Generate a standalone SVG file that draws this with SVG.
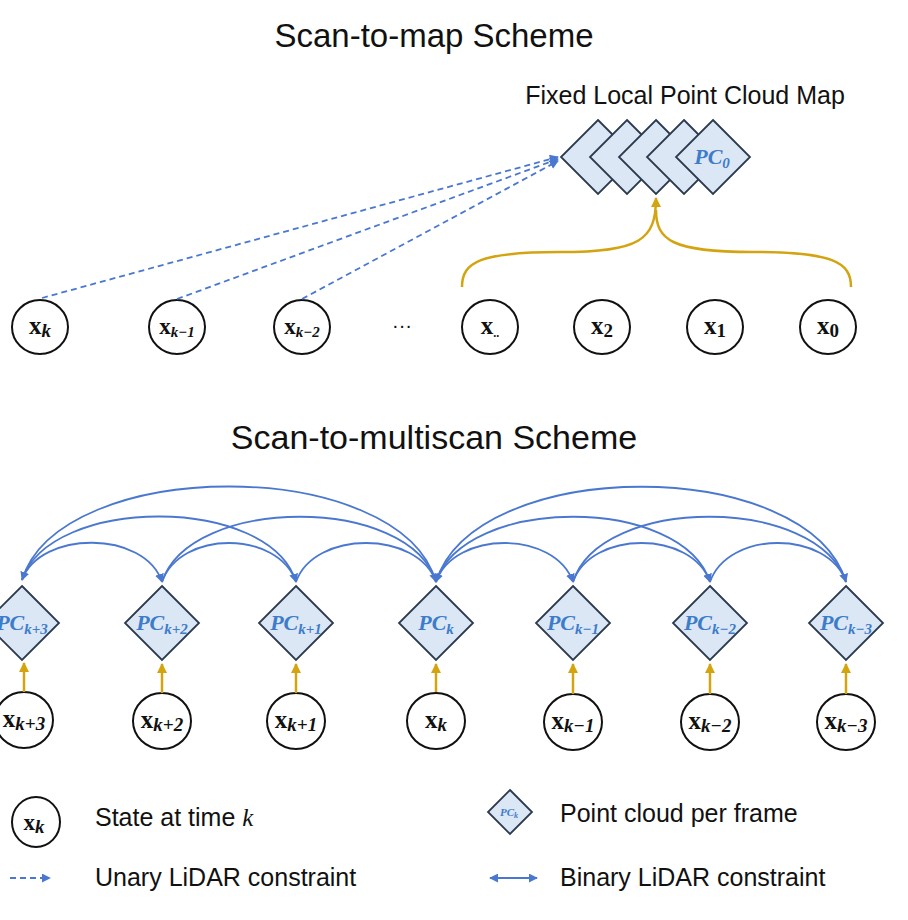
<svg xmlns="http://www.w3.org/2000/svg" width="908" height="920" viewBox="0 0 908 920">
<style>
.t{font-family:"Liberation Sans",Arial,sans-serif;fill:#111}
.st{fill:#fff;stroke:#111;stroke-width:2}
.pc{fill:#dce7f5;stroke:#2b3a4e;stroke-width:1.8}
.m{font-family:"Liberation Serif","DejaVu Serif",serif;font-weight:bold;fill:#111;font-size:25px}
.s{font-style:italic;font-size:19px}
.pl{font-family:"Liberation Serif","DejaVu Serif",serif;font-weight:bold;font-style:italic;fill:#3d7cc9;font-size:22px}
.ps{font-style:italic;font-size:15px}
.bl{fill:none;stroke:#4a78d0;stroke-width:1.8}
.dl{fill:none;stroke:#4a78d0;stroke-width:1.8;stroke-dasharray:6,4}
.yl{fill:none;stroke:#d4a410;stroke-width:2.5}
</style>
<defs>
<marker id="ab" viewBox="0 0 10 10" refX="9" refY="5" markerWidth="5" markerHeight="5" orient="auto-start-reverse"><path d="M0,0L10,5L0,10z" fill="#4a78d0"/></marker>
<marker id="ay" viewBox="0 0 10 10" refX="9" refY="5" markerWidth="4" markerHeight="4" orient="auto"><path d="M0,0L10,5L0,10z" fill="#d4a410"/></marker>
</defs>
<text class="t" x="434" y="47" font-size="33" text-anchor="middle">Scan-to-map Scheme</text>
<text class="t" x="685" y="104" font-size="25" text-anchor="middle">Fixed Local Point Cloud Map</text>
<text class="t" x="434" y="449" font-size="34" text-anchor="middle">Scan-to-multiscan Scheme</text>

<g id="map">
<path class="pc" d="M598,120L635,157L598,194L561,157z"/>
<path class="pc" d="M627,120L664,157L627,194L590,157z"/>
<path class="pc" d="M656,120L693,157L656,194L619,157z"/>
<path class="pc" d="M684,120L721,157L684,194L647,157z"/>
<path class="pc" d="M713,120L750,157L713,194L676,157z"/>
<text class="pl" x="712" y="164" text-anchor="middle">PC<tspan class="ps" dy="4">0</tspan></text>
</g>
<g id="top-states">
<ellipse class="st" cx="40" cy="327" rx="28" ry="27"/><text class="m" x="40" y="334" text-anchor="middle">x<tspan class="s" dy="3">k</tspan></text>
<ellipse class="st" cx="177" cy="327" rx="28" ry="27"/><text class="m" x="177" y="334" text-anchor="middle" style="font-size:23px">x<tspan dy="3" style="font-style:italic;font-size:15px">k−1</tspan></text>
<ellipse class="st" cx="302" cy="327" rx="28" ry="27"/><text class="m" x="302" y="334" text-anchor="middle" style="font-size:23px">x<tspan dy="3" style="font-style:italic;font-size:15px">k−2</tspan></text>
<text class="t" x="402" y="332" font-size="20" text-anchor="middle">···</text>
<ellipse class="st" cx="490" cy="327" rx="28" ry="27"/><text class="m" x="490" y="334" text-anchor="middle">x<tspan dy="3" style="font-size:12px">..</tspan></text>
<ellipse class="st" cx="602" cy="327" rx="28" ry="27"/><text class="m" x="602" y="334" text-anchor="middle">x<tspan dy="3" style="font-size:19px">2</tspan></text>
<ellipse class="st" cx="715" cy="327" rx="28" ry="27"/><text class="m" x="715" y="334" text-anchor="middle">x<tspan dy="3" style="font-size:19px">1</tspan></text>
<ellipse class="st" cx="828" cy="327" rx="28" ry="27"/><text class="m" x="828" y="334" text-anchor="middle">x<tspan dy="3" style="font-size:19px">0</tspan></text>
</g>
<g id="top-connectors">
<path class="dl" d="M42,298L558,157" marker-end="url(#ab)"/>
<path class="dl" d="M177,299L558,159" marker-end="url(#ab)"/>
<path class="dl" d="M302,299L558,161" marker-end="url(#ab)"/>
<path class="yl" d="M462,287C462,262 480,252 560,252C640,252 656,240 656,198" marker-end="url(#ay)"/>
<path class="yl" d="M851,287C851,262 833,252 752,252C672,252 656,240 656,210"/>
</g>

<g id="pcs">
<path class="pc" d="M22,586L59,623L22,660L-15,623z"/><text class="pl" x="22" y="630" text-anchor="middle">PC<tspan class="ps" dy="4">k+3</tspan></text>
<path class="pc" d="M162,586L199,623L162,660L125,623z"/><text class="pl" x="162" y="630" text-anchor="middle">PC<tspan class="ps" dy="4">k+2</tspan></text>
<path class="pc" d="M296,586L333,623L296,660L259,623z"/><text class="pl" x="296" y="630" text-anchor="middle">PC<tspan class="ps" dy="4">k+1</tspan></text>
<path class="pc" d="M436,586L473,623L436,660L399,623z"/><text class="pl" x="436" y="630" text-anchor="middle">PC<tspan class="ps" dy="4">k</tspan></text>
<path class="pc" d="M573,586L610,623L573,660L536,623z"/><text class="pl" x="573" y="630" text-anchor="middle">PC<tspan class="ps" dy="4">k−1</tspan></text>
<path class="pc" d="M710,586L747,623L710,660L673,623z"/><text class="pl" x="710" y="630" text-anchor="middle">PC<tspan class="ps" dy="4">k−2</tspan></text>
<path class="pc" d="M846,586L883,623L846,660L809,623z"/><text class="pl" x="846" y="630" text-anchor="middle">PC<tspan class="ps" dy="4">k−3</tspan></text>
</g>
<g id="bottom-states">
<ellipse class="st" cx="24" cy="720" rx="29" ry="28"/><text class="m" x="24" y="727" text-anchor="middle">x<tspan class="s" dy="3">k+3</tspan></text>
<ellipse class="st" cx="162" cy="721" rx="29" ry="28"/><text class="m" x="162" y="728" text-anchor="middle">x<tspan class="s" dy="3">k+2</tspan></text>
<ellipse class="st" cx="296" cy="721" rx="29" ry="28"/><text class="m" x="296" y="728" text-anchor="middle">x<tspan class="s" dy="3">k+1</tspan></text>
<ellipse class="st" cx="436" cy="721" rx="29" ry="28"/><text class="m" x="436" y="728" text-anchor="middle">x<tspan class="s" dy="3">k</tspan></text>
<ellipse class="st" cx="573" cy="722" rx="29" ry="28"/><text class="m" x="573" y="729" text-anchor="middle">x<tspan class="s" dy="3">k−1</tspan></text>
<ellipse class="st" cx="710" cy="722" rx="29" ry="28"/><text class="m" x="710" y="729" text-anchor="middle">x<tspan class="s" dy="3">k−2</tspan></text>
<ellipse class="st" cx="846" cy="722" rx="29" ry="28"/><text class="m" x="846" y="729" text-anchor="middle">x<tspan class="s" dy="3">k−3</tspan></text>
</g>
<g id="bottom-connectors">
<path class="yl" d="M24,692V663" marker-end="url(#ay)"/>
<path class="yl" d="M162,693V664" marker-end="url(#ay)"/>
<path class="yl" d="M296,693V664" marker-end="url(#ay)"/>
<path class="yl" d="M436,692V664" marker-end="url(#ay)"/>
<path class="yl" d="M573,694V664" marker-end="url(#ay)"/>
<path class="yl" d="M710,694V664" marker-end="url(#ay)"/>
<path class="yl" d="M846,694V664" marker-end="url(#ay)"/>
<path class="bl" d="M22,580C40,530 145,530 162,582" marker-start="url(#ab)" marker-end="url(#ab)"/>
<path class="bl" d="M22,580C50,495 270,495 296,582" marker-end="url(#ab)"/>
<path class="bl" d="M22,580C60,455 400,455 436,582" marker-end="url(#ab)"/>
<path class="bl" d="M162,582C180,530 278,530 296,582"/>
<path class="bl" d="M162,582C190,495 410,495 436,582"/>
<path class="bl" d="M296,582C314,530 418,530 436,582"/>
<path class="bl" d="M436,582C454,530 555,530 573,582" marker-start="url(#ab)" marker-end="url(#ab)"/>
<path class="bl" d="M436,582C464,495 682,495 710,582" marker-end="url(#ab)"/>
<path class="bl" d="M436,582C475,455 808,455 846,582" marker-end="url(#ab)"/>
<path class="bl" d="M573,582C591,530 692,530 710,582"/>
<path class="bl" d="M573,582C600,495 818,495 846,582"/>
<path class="bl" d="M710,582C728,530 828,530 846,582"/>
</g>

<g id="legend">
<ellipse class="st" cx="36" cy="822" rx="24" ry="25"/><text class="m" x="34" y="830" text-anchor="middle" style="font-size:23px">x<tspan class="s" dy="3">k</tspan></text>
<text class="t" x="95" y="826" font-size="25">State at time <tspan font-family="Liberation Serif,serif" font-style="italic">k</tspan></text>
<path class="pc" d="M510,790L532,812L510,834L488,812z"/><text class="pl" x="509" y="816" text-anchor="middle" style="font-size:11px">PC<tspan dy="2" style="font-size:8px">k</tspan></text>
<text class="t" x="560" y="822" font-size="25">Point cloud per frame</text>
<path class="dl" d="M10,878H50" stroke-dasharray="5,4" marker-end="url(#ab)"/>
<text class="t" x="95" y="886" font-size="25">Unary LiDAR constraint</text>
<path class="bl" d="M490,878H537" marker-start="url(#ab)" marker-end="url(#ab)"/>
<text class="t" x="560" y="886" font-size="25">Binary LiDAR constraint</text>
</g>
</svg>
